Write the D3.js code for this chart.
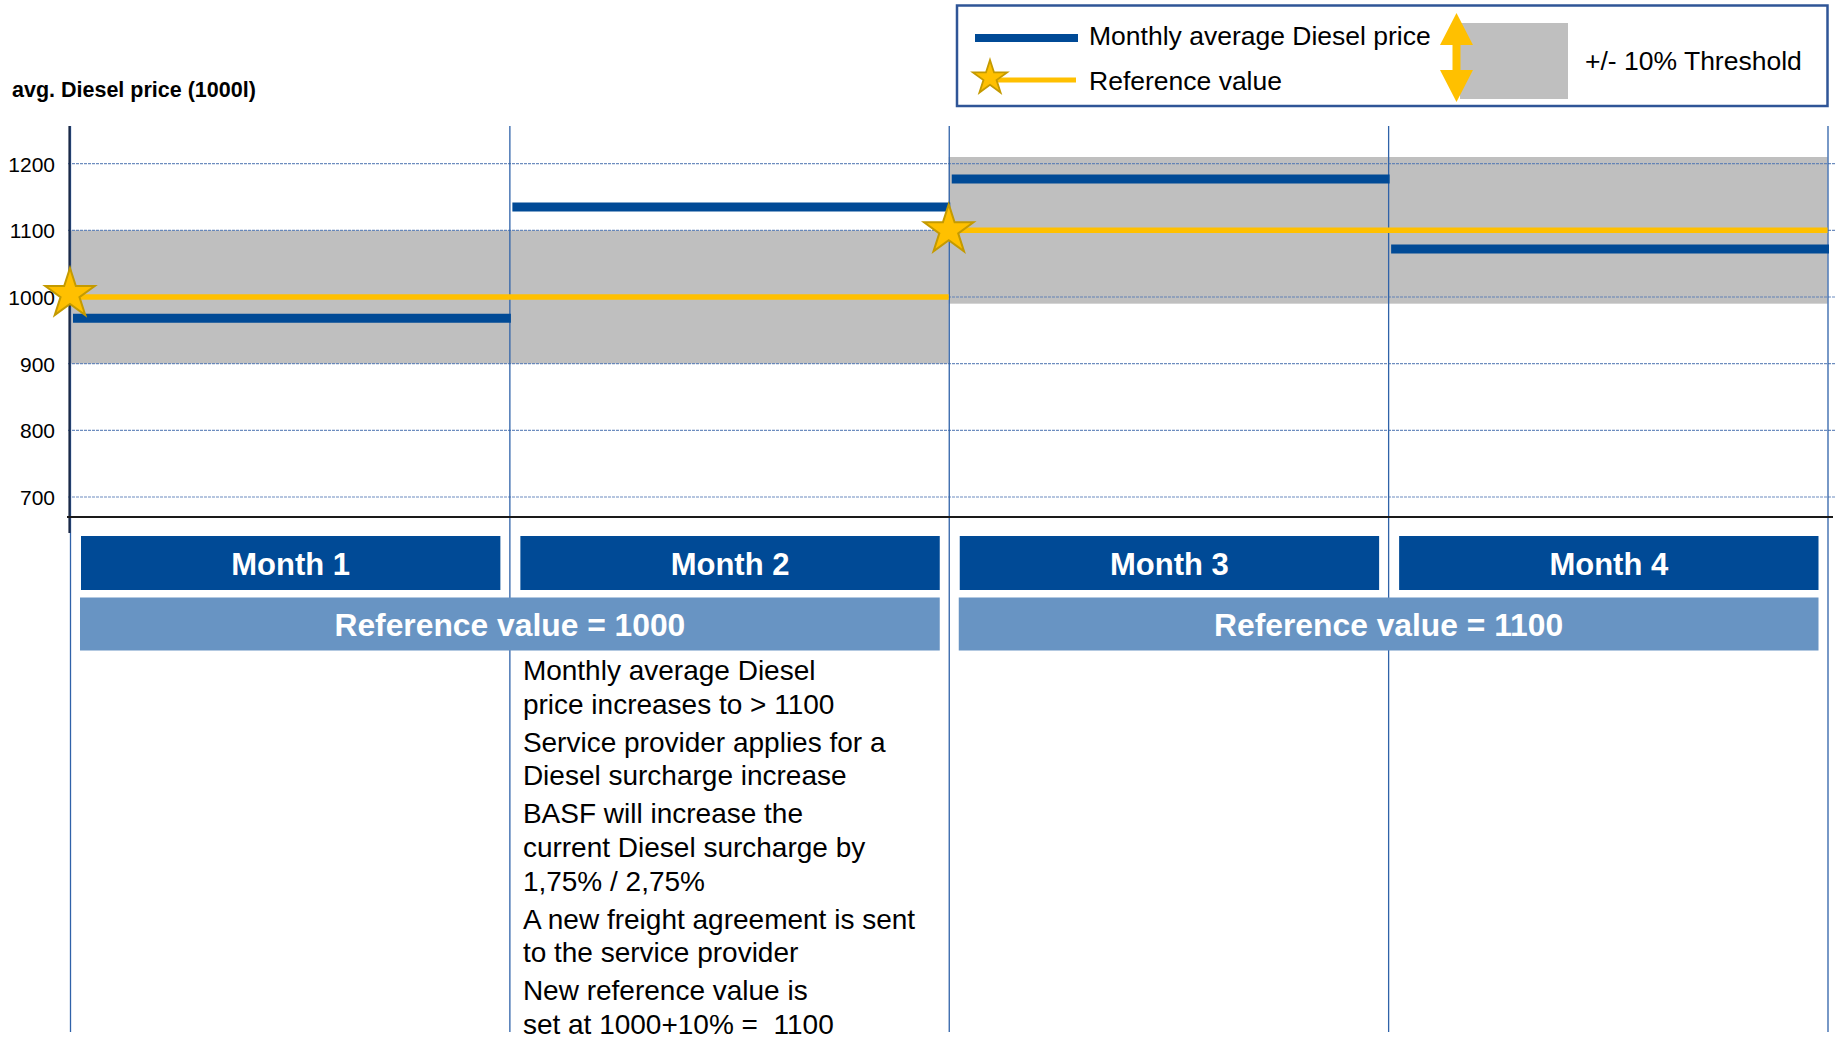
<!DOCTYPE html>
<html><head><meta charset="utf-8">
<script src="https://cdn.jsdelivr.net/npm/d3@7"></script>
<style>
html,body{margin:0;padding:0;background:#fff;}
svg{display:block;font-family:"Liberation Sans",Arial,Helvetica,sans-serif;}
text{white-space:pre;}
</style></head><body>
<svg id="chart" width="1835" height="1042"></svg>
<script>
// ---------------- data ----------------
const months = ["Month 1", "Month 2", "Month 3", "Month 4"];
const monthlyPrice = [968, 1135, 1177, 1072];
const refLabels = ["Reference value = 1000", "Reference value = 1100"];
const refValues = [1000, 1100];
const refStartMonth = [0, 2];
const refEndMonth = [2, 4];
const thresholdPct = 0.10;
const yTicks = [700, 800, 900, 1000, 1100, 1200];
const yAxisTitle = "avg. Diesel price (1000l)";
const legendLabels = ["Monthly average Diesel price", "Reference value", "+/- 10% Threshold"];
const notes = [
  ["Monthly average Diesel", "price increases to > 1100"],
  ["Service provider applies for a", "Diesel surcharge increase"],
  ["BASF will increase the", "current Diesel surcharge by", "1,75% / 2,75%"],
  ["A new freight agreement is sent", "to the service provider"],
  ["New reference value is", "set at 1000+10% =  1100"]
];
const noteMonth = 1;

// ---------------- styles ----------------
const C = {
  navy: "#004a96", light: "#6894c3", gold: "#ffc000", goldStroke: "#c49a00",
  band: "#bfbfbf", grid: "#5479b4", divider: "#2f62a9", axis: "#1b2a48"
};

const svg = d3.select("#chart");
const x = d3.scaleLinear().domain([0, months.length]).range([70, 1827.5]);
const y = d3.scaleLinear().domain([670, 1255]).range([517, 127]);

// threshold bands
svg.append("g").selectAll("rect").data(refValues).join("rect")
  .attr("x", (d, i) => x(refStartMonth[i]))
  .attr("width", (d, i) => x(refEndMonth[i]) - x(refStartMonth[i]))
  .attr("y", d => y(d * (1 + thresholdPct)))
  .attr("height", d => y(d * (1 - thresholdPct)) - y(d * (1 + thresholdPct)))
  .attr("fill", C.band);

// gridlines
svg.append("g").selectAll("line").data(yTicks).join("line")
  .attr("x1", x(0) - 2).attr("x2", 1835)
  .attr("y1", d => y(d)).attr("y2", d => y(d))
  .attr("stroke", C.grid).attr("stroke-width", 1.2).attr("stroke-opacity", 0.85)
  .attr("stroke-dasharray", "3,1");

// vertical dividers
svg.append("g").selectAll("line").data(d3.range(months.length + 1)).join("line")
  .attr("x1", d => x(d) + 0.5).attr("x2", d => x(d) + 0.5)
  .attr("y1", 126).attr("y2", 1032)
  .attr("stroke", C.divider).attr("stroke-width", 1.3);

// y axis line & base line
svg.append("line").attr("x1", x(0) - 0.5).attr("x2", x(0) - 0.5)
  .attr("y1", 126).attr("y2", 533).attr("stroke", C.axis).attr("stroke-width", 2.2);
svg.append("line").attr("x1", x(0) - 3).attr("x2", 1833)
  .attr("y1", y(670)).attr("y2", y(670)).attr("stroke", "#1a1a1a").attr("stroke-width", 2.2);

// y axis labels
const yAxis = svg.append("g").attr("transform", `translate(${x(0)},0)`)
  .call(d3.axisLeft(y).tickValues(yTicks).tickSize(0).tickPadding(15).tickFormat(d3.format("d")));
yAxis.select(".domain").remove();
yAxis.selectAll("text").attr("font-size", 21).attr("fill", "#000")
  .attr("font-family", '"Liberation Sans",Arial,sans-serif').attr("dy", "0.36em");

svg.append("text").attr("x", 12).attr("y", 97).text(yAxisTitle)
  .attr("font-size", 21.5).attr("font-weight", "bold").attr("fill", "#000");

// reference lines
svg.append("g").selectAll("line").data(refValues).join("line")
  .attr("x1", (d, i) => x(refStartMonth[i])).attr("x2", (d, i) => x(refEndMonth[i]))
  .attr("y1", d => y(d)).attr("y2", d => y(d))
  .attr("stroke", C.gold).attr("stroke-width", 5.5);

// monthly price lines
svg.append("g").selectAll("line").data(monthlyPrice).join("line")
  .attr("x1", (d, i) => x(i) + 3).attr("x2", (d, i) => x(i + 1) + 1.5)
  .attr("y1", d => y(d)).attr("y2", d => y(d))
  .attr("stroke", C.navy).attr("stroke-width", 9);

// stars
const starBig = d3.symbol(d3.symbolStar, 26 * 26 / 0.8908130915292852);
svg.append("g").selectAll("path").data(refValues).join("path")
  .attr("d", starBig)
  .attr("transform", (d, i) => `translate(${x(refStartMonth[i])},${y(d) - (i === 0 ? 3 : 0)})`)
  .attr("fill", C.gold).attr("stroke", C.goldStroke).attr("stroke-width", 2);

// month header boxes
const mg = svg.append("g").selectAll("g").data(months).join("g");
mg.append("rect")
  .attr("x", (d, i) => x(i) + 11).attr("width", (d, i) => x(i + 1) - x(i) - 20)
  .attr("y", 536).attr("height", 54).attr("fill", C.navy);
mg.append("text")
  .attr("x", (d, i) => (x(i) + 11 + x(i + 1) - 9) / 2).attr("y", 575)
  .attr("text-anchor", "middle").attr("fill", "#fff").attr("font-size", 31).attr("font-weight", "bold")
  .text(d => d);

// reference value boxes
const rg = svg.append("g").selectAll("g").data(refLabels).join("g");
rg.append("rect")
  .attr("x", (d, i) => x(refStartMonth[i]) + 10)
  .attr("width", (d, i) => x(refEndMonth[i]) - x(refStartMonth[i]) - 19)
  .attr("y", 597.5).attr("height", 53).attr("fill", C.light);
rg.append("text")
  .attr("x", (d, i) => (x(refStartMonth[i]) + 10 + x(refEndMonth[i]) - 9) / 2).attr("y", 636)
  .attr("text-anchor", "middle").attr("fill", "#fff").attr("font-size", 31.8).attr("font-weight", "bold")
  .text(d => d);

// notes
const noteG = svg.append("g");
let baseline = 680;
notes.forEach((para, pi) => {
  if (pi > 0) baseline += 4.5;
  para.forEach(line => {
    noteG.append("text").attr("x", x(noteMonth) + 13.5).attr("y", baseline)
      .attr("font-size", 28).attr("fill", "#000").text(line);
    baseline += 33.6;
  });
});

// legend
const lg = svg.append("g");
lg.append("rect").attr("x", 957).attr("y", 5.5).attr("width", 870.5).attr("height", 100.5)
  .attr("fill", "#fff").attr("stroke", "#2f5597").attr("stroke-width", 2.5);
lg.append("line").attr("x1", 975).attr("x2", 1078).attr("y1", 38).attr("y2", 38)
  .attr("stroke", C.navy).attr("stroke-width", 8);
lg.append("line").attr("x1", 990).attr("x2", 1076).attr("y1", 80).attr("y2", 80)
  .attr("stroke", C.gold).attr("stroke-width", 5);
lg.append("path").attr("d", d3.symbol(d3.symbolStar, 18 * 18 / 0.8908130915292852))
  .attr("transform", "translate(990,78)")
  .attr("fill", C.gold).attr("stroke", C.goldStroke).attr("stroke-width", 1.8);
lg.append("text").attr("x", 1089).attr("y", 45).attr("font-size", 26.5).attr("fill", "#000").text(legendLabels[0]);
lg.append("text").attr("x", 1089).attr("y", 90).attr("font-size", 26.5).attr("fill", "#000").text(legendLabels[1]);
lg.append("rect").attr("x", 1460).attr("y", 23).attr("width", 108).attr("height", 76).attr("fill", C.band);
const ax = 1456.5, at = 13, ab = 102, hh = 32, hw = 16.5, sw = 4;
const ap = d3.path();
ap.moveTo(ax, at); ap.lineTo(ax + hw, at + hh); ap.lineTo(ax + sw, at + hh); ap.lineTo(ax + sw, ab - hh);
ap.lineTo(ax + hw, ab - hh); ap.lineTo(ax, ab); ap.lineTo(ax - hw, ab - hh); ap.lineTo(ax - sw, ab - hh);
ap.lineTo(ax - sw, at + hh); ap.lineTo(ax - hw, at + hh); ap.closePath();
lg.append("path").attr("d", ap.toString()).attr("fill", C.gold);
lg.append("text").attr("x", 1585).attr("y", 70).attr("font-size", 26.5).attr("fill", "#000").text(legendLabels[2]);
</script>
</body></html>
